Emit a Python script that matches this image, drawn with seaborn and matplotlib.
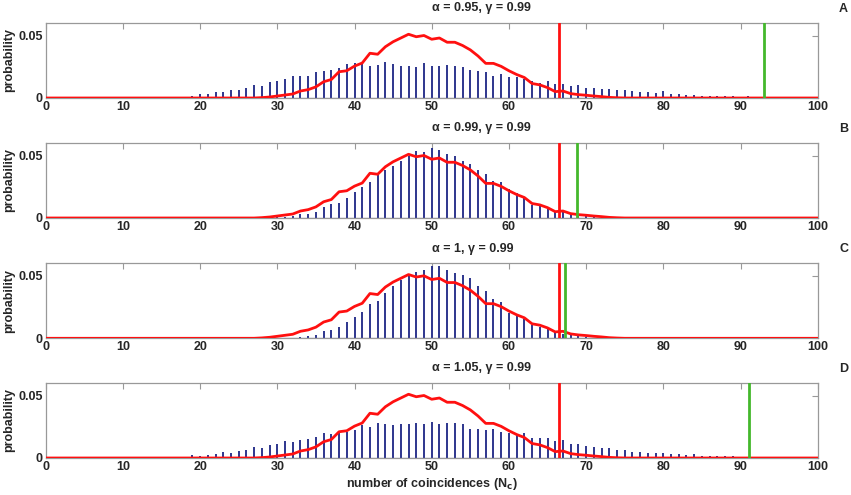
import numpy as np
import pandas as pd
import matplotlib
matplotlib.use("Agg")
import matplotlib.pyplot as plt
import seaborn as sns

# number of coincidences axis
nc = np.arange(0, 101)

# red curve (same in every panel), starting at Nc = 28
red_start = 28
red_curve = [0.0003, 0.0008, 0.0016, 0.0024, 0.0032, 0.0056, 0.0067, 0.0089, 0.013, 0.0148,
             0.021, 0.0218, 0.0255, 0.028, 0.0358, 0.035, 0.041, 0.045, 0.048, 0.051,
             0.049, 0.050, 0.047, 0.048, 0.0446, 0.0446, 0.042, 0.0385, 0.0336, 0.0277,
             0.0277, 0.0253, 0.0218, 0.0188, 0.0164, 0.0116, 0.0105, 0.0083, 0.0051, 0.0056,
             0.0035, 0.0027, 0.0022, 0.0016, 0.0011, 0.0005, 0.0002]

# stem values per panel (start index, values)
stems_a_start = 17
stems_a = [0.0003, 0.0004, 0.0016, 0.0032, 0.003, 0.0046, 0.0046, 0.0065, 0.0067, 0.008,
           0.0105, 0.01, 0.013, 0.0134, 0.0156, 0.0177, 0.0177, 0.018, 0.0207, 0.0218,
           0.0223, 0.024, 0.027, 0.0277, 0.027, 0.0253, 0.0266, 0.029, 0.0269, 0.026,
           0.026, 0.0245, 0.0277, 0.0255, 0.0258, 0.0266, 0.026, 0.025, 0.0226, 0.022,
           0.0212, 0.018, 0.019, 0.0167, 0.017, 0.0156, 0.0134, 0.0124, 0.0137, 0.011,
           0.0116, 0.0094, 0.0108, 0.0083, 0.008, 0.0073, 0.0075, 0.0067, 0.0067, 0.0056,
           0.0046, 0.0046, 0.0043, 0.0056, 0.0035, 0.0032, 0.0027, 0.0022, 0.0019, 0.0016,
           0.0016, 0.0016, 0.0016, 0.0011, 0.0013, 0.0011, 0.0008, 0.0003, 0.0003, 0.0002,
           0.0002]

stems_b_start = 29
stems_b = [0.0003, 0.0005, 0.001, 0.0016, 0.003, 0.0035, 0.005, 0.0089, 0.011, 0.0124,
           0.0164, 0.0207, 0.025, 0.0285, 0.036, 0.0385, 0.0417, 0.046, 0.0495, 0.054,
           0.0527, 0.0557, 0.0543, 0.0516, 0.0498, 0.046, 0.0436, 0.0385, 0.0352, 0.0298,
           0.0285, 0.0231, 0.0202, 0.0161, 0.0108, 0.0097, 0.0075, 0.0056, 0.0046, 0.003,
           0.0024, 0.0019, 0.0013, 0.0008, 0.0005, 0.0003, 0.0002]

stems_c_start = 31
stems_c = [0.0003, 0.0003, 0.0008, 0.0016, 0.003, 0.0056, 0.0065, 0.0094, 0.0134, 0.0172,
           0.0212, 0.0277, 0.0298, 0.0363, 0.0417, 0.0465, 0.0503, 0.053, 0.0546, 0.0576,
           0.0581, 0.0543, 0.0522, 0.0508, 0.0482, 0.0417, 0.0377, 0.0317, 0.029, 0.0204,
           0.0196, 0.0153, 0.011, 0.0091, 0.0078, 0.0048, 0.0032, 0.0024, 0.0016, 0.001,
           0.0005, 0.0003, 0.0002]

stems_d_start = 16
stems_d = [0.0002, 0.0002, 0.0003, 0.0021, 0.0013, 0.0024, 0.0035, 0.0045, 0.004, 0.0059,
           0.0067, 0.009, 0.008, 0.0107, 0.0112, 0.0133, 0.0125, 0.0146, 0.0154, 0.017,
           0.0197, 0.0194, 0.0215, 0.021, 0.0223, 0.0266, 0.025, 0.0282, 0.0274, 0.0261,
           0.0269, 0.0271, 0.0282, 0.0274, 0.0287, 0.0274, 0.0282, 0.0277, 0.0271, 0.0231,
           0.0231, 0.0221, 0.0234, 0.0207, 0.02, 0.0184, 0.02, 0.0162, 0.016, 0.016,
           0.0138, 0.0146, 0.0112, 0.0112, 0.0093, 0.0085, 0.008, 0.0077, 0.0067, 0.0061,
           0.0051, 0.0045, 0.004, 0.0037, 0.0037, 0.0032, 0.0032, 0.0027, 0.0029, 0.0019,
           0.0019, 0.0016, 0.0016, 0.0016, 0.0008, 0.0004, 0.0003, 0.0003, 0.0002, 0.0002,
           0.0002, 0.0001]

titles = ["\u03b1 = 0.95, \u03b3 = 0.99", "\u03b1 = 0.99, \u03b3 = 0.99",
          "\u03b1 = 1, \u03b3 = 0.99", "\u03b1 = 1.05, \u03b3 = 0.99"]
letters = ["A", "B", "C", "D"]
red_thresh = [66.5, 66.5, 66.5, 66.5]
green_thresh = [93.0, 68.8, 67.3, 91.1]


def pad(start, vals):
    arr = np.zeros(len(nc))
    arr[start:start + len(vals)] = vals
    return arr


red_full = pad(red_start, red_curve)
stems_all = [pad(stems_a_start, stems_a), pad(stems_b_start, stems_b),
             pad(stems_c_start, stems_c), pad(stems_d_start, stems_d)]

sns.set_style("white")
plt.rcParams['font.family'] = ['Liberation Sans', 'DejaVu Sans']
plt.rcParams['font.weight'] = 'bold'
plt.rcParams['font.size'] = 9

fig = plt.figure(figsize=(8.51, 4.95), dpi=100)
W, H = 851.0, 495.0
tops = [23, 143, 263.3, 383]
ax_h = 75.0

df_red = pd.DataFrame({'nc': nc, 'p': red_full})

for i in range(4):
    top = tops[i]
    ax = fig.add_axes([45.7 / W, 1 - (top + ax_h) / H, 772.0 / W, ax_h / H])
    stems = stems_all[i]
    mask = stems > 0
    ax.axhline(0, color='#a6a6d6', lw=1.0, zorder=1)
    ax.vlines(nc[mask], 0, stems[mask], color='#1c2585', lw=1.3, zorder=2)
    sns.lineplot(data=df_red, x='nc', y='p', ax=ax, color='#ff1010', lw=2.0, zorder=3)
    ax.axvline(red_thresh[i], color='#ff1010', lw=2.0, zorder=4)
    ax.axvline(green_thresh[i], color='#44b82c', lw=2.0, zorder=4)

    ax.set_xlim(0, 100)
    ax.set_ylim(0, 0.06)
    ax.set_xticks(np.arange(0, 101, 10))
    ax.set_yticks([0, 0.05])
    ax.set_yticklabels(['0', '0.05'])
    ax.tick_params(direction='in', length=4, width=0.8, color='#999999',
                   top=True, right=True, pad=2, labelsize=9)
    for s in ax.spines.values():
        s.set_color('#999999')
        s.set_linewidth(0.9)
    ax.set_ylabel('probability', fontweight='bold', fontsize=9, labelpad=2)
    ax.set_xlabel('')

    fig.text(0.5 * (45.7 + 817.7) / W, 1 - (top - 14.5) / H, titles[i],
             ha='left', va='center', fontsize=9, fontweight='bold')
    fig.text(843.5 / W, 1 - (top - 14.5) / H, letters[i],
             ha='center', va='center', fontsize=9, fontweight='bold')

    if i == 3:
        ax.set_xlabel('number of coincidences (N$_\\mathbf{c}$)', fontweight='bold',
                      fontsize=9, labelpad=2)

fig.savefig('out.png', dpi=100)
